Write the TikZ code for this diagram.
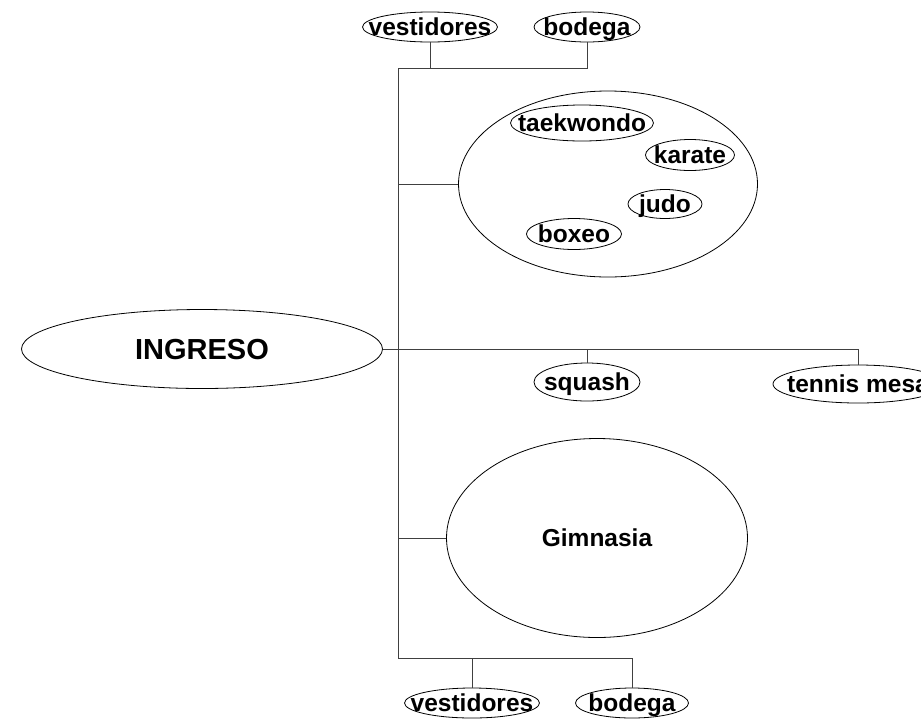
\documentclass[tikz,border=0pt]{standalone}
\usepackage{fontspec}
\setmainfont{Liberation Sans}
\usetikzlibrary{shapes.geometric}
\tikzset{
  ell/.style={draw=black, line width=0.8pt, ellipse, inner sep=0pt, fill=white},
  lab/.style={font=\fontsize{24.5}{28}\selectfont\bfseries, inner sep=0pt, text height=17.6pt, text depth=0pt},
  biglab/.style={font=\fontsize{29}{33}\selectfont\bfseries, inner sep=0pt, text height=20.9pt, text depth=0pt},
  conn/.style={draw=black!75, line width=0.9pt},
}
\begin{document}
\begin{tikzpicture}[x=1pt,y=-1pt]
\useasboundingbox (0,0) rectangle (921,724);
\clip (0,0) rectangle (921,724);
\fill[white] (0,0) rectangle (921,724);
% nodes
\node[ell, minimum width=361pt, minimum height=79pt, label={[biglab]center:INGRESO}] (ingreso) at (202,349) {};
\node[ell, minimum width=135pt, minimum height=30pt, label={[lab]center:vestidores}] (v1) at (430,27) {};
\node[ell, minimum width=106pt, minimum height=30pt, label={[lab]center:bodega}] (b1) at (587,27) {};
\node[ell, minimum width=299pt, minimum height=186pt] (martial) at (608,184) {};
\node[ell, minimum width=143pt, minimum height=36pt, label={[lab]center:taekwondo}] (tkd) at (582,123) {};
\node[ell, minimum width=89pt, minimum height=31pt, label={[lab]center:karate}] (kar) at (690,155) {};
\node[ell, minimum width=74pt, minimum height=29pt, label={[lab]center:judo}] (judo) at (665,204) {};
\node[ell, minimum width=95pt, minimum height=31pt, label={[lab]center:boxeo}] (box) at (574,234) {};
\node[ell, minimum width=106pt, minimum height=38pt, label={[lab]center:squash}] (squash) at (587,382) {};
\node[ell, minimum width=170pt, minimum height=38pt, label={[lab]center:tennis mesa}] (tennis) at (858,384) {};
\node[ell, minimum width=301pt, minimum height=199pt, label={[lab]center:Gimnasia}] (gym) at (597,538) {};
\node[ell, minimum width=135pt, minimum height=30pt, label={[lab]center:vestidores}] (v2) at (472,703) {};
\node[ell, minimum width=113pt, minimum height=30pt, label={[lab]center:bodega}] (b2) at (632,703) {};
% trunk
\coordinate (tTop) at (398,68);
\coordinate (tBot) at (398,658);
\draw[conn] (tTop) -- (tBot);
\draw[conn] (ingreso.east) -| (tennis.north);
\draw[conn] (squash.north) -- (squash.north |- ingreso.east);
\draw[conn] (v1.south) |- (tTop);
\draw[conn] (b1.south) |- (tTop);
\draw[conn] (martial.west) -- (martial.west -| tTop);
\draw[conn] (gym.west) -- (gym.west -| tTop);
\draw[conn] (v2.north) |- (tBot);
\draw[conn] (b2.north) |- (tBot);
\end{tikzpicture}
\end{document}
